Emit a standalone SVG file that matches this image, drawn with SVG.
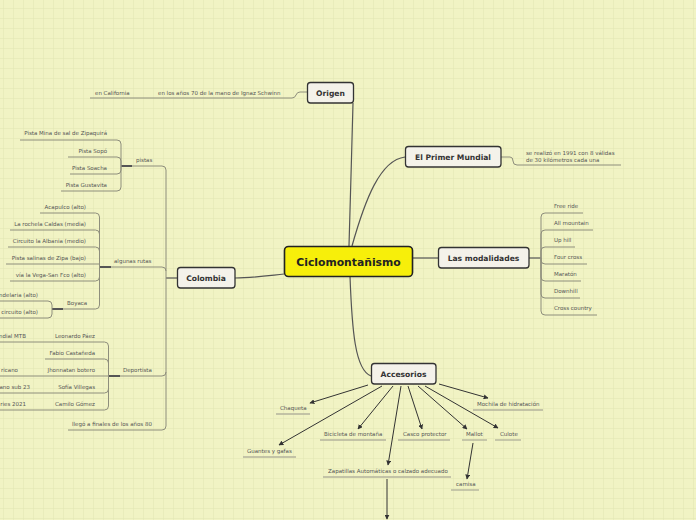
<svg xmlns="http://www.w3.org/2000/svg" width="696" height="520" viewBox="0 0 696 520">
<defs>
<pattern id="grid" x="3" y="8" width="10" height="10" patternUnits="userSpaceOnUse">
<path d="M0 0H10M0 0V10" fill="none" stroke="#e1e5b2" stroke-width="1"/>
</pattern>
<marker id="ah" viewBox="0 0 8 8" refX="7" refY="4" markerWidth="5" markerHeight="5" orient="auto">
<path d="M0 0L8 4L0 8z" fill="#333"/>
</marker>
<style>
.node rect{fill:#f4f2ea;stroke:#333;stroke-width:1.3}
.nt{font-family:"DejaVu Sans",Verdana,sans-serif;font-weight:bold;font-size:7.6px;fill:#333;text-anchor:middle}
.lt{font-family:"DejaVu Sans",Verdana,sans-serif;font-size:5.5px;fill:#555}
.r{text-anchor:end}
.tree{fill:none;stroke:#8e8e7c;stroke-width:1}
.main{fill:none;stroke:#555;stroke-width:1.2}
.thick{fill:none;stroke:#555;stroke-width:2}
.ul{fill:none;stroke:#b3b39c;stroke-width:1.4}
.arr{fill:none;stroke:#333;stroke-width:1;marker-end:url(#ah)}
</style>
</defs>
<rect width="696" height="520" fill="#f1f3c4"/>
<rect width="696" height="520" fill="url(#grid)"/>

<g id="connectors">
<path class="main" d="M349 246 C350 200 352 150 353 103"/>
<path class="main" d="M352 246 C365 200 380 160 405 157"/>
<path class="main" d="M412 258 H438"/>
<path class="main" d="M284 274 C265 276 250 278 235 278"/>
<path class="main" d="M350 276 C352 330 355 370 371 376"/>

<path class="tree" d="M307 92 H300 Q297 92 296 95 Q295 98 292 98 H90"/>
<path class="tree" d="M501 157 H510 Q513 157 513 161 Q513 165 517 165 H621"/>

<path class="main" d="M529 258 H541"/>
<path class="tree" d="M541 258 V217 Q541 213 545 213 H583"/>
<path class="tree" d="M541 258 V234 Q541 230 545 230 H593"/>
<path class="tree" d="M541 258 V251 Q541 247 545 247 H575"/>
<path class="tree" d="M541 258 V260 Q541 264 545 264 H587"/>
<path class="tree" d="M541 258 V277 Q541 281 545 281 H581"/>
<path class="tree" d="M541 258 V294 Q541 298 545 298 H580"/>
<path class="tree" d="M541 258 V311 Q541 315 545 315 H597"/>

<path class="main" d="M177 278 H166"/>
<path class="tree" d="M130 166 H162 Q166 166 166 170 V426 Q166 430 162 430 H68"/>
<path class="tree" d="M100 267 H162 Q166 267 166 271"/>
<path class="tree" d="M108 376 H162 Q166 376 166 372"/>
<path class="thick" d="M121 166 H132"/>
<path class="tree" d="M121 166 V144 Q121 140 117 140 H20"/>
<path class="tree" d="M121 166 V161 Q121 157 117 157 H68"/>
<path class="tree" d="M121 166 V170 Q121 174 117 174 H70"/>
<path class="tree" d="M121 166 V187 Q121 191 117 191 H61"/>
<path class="thick" d="M99.5 267 H111"/>
<path class="tree" d="M99.5 267 V217 Q99.5 213 95.5 213 H40"/>
<path class="tree" d="M99.5 267 V234 Q99.5 230 95.5 230 H10"/>
<path class="tree" d="M99.5 267 V251 Q99.5 247 95.5 247 H8"/>
<path class="tree" d="M99.5 267 V264 H6"/>
<path class="tree" d="M99.5 267 V277 Q99.5 281 95.5 281 H10"/>
<path class="tree" d="M99.5 267 V305 Q99.5 309 95.5 309 H52"/>
<path class="thick" d="M52 309 H63"/>
<path class="tree" d="M52 309 V305 Q52 301 48 301 H0"/>
<path class="tree" d="M52 309 V314 Q52 318 48 318 H0"/>
<path class="thick" d="M108.5 376 H120"/>
<path class="tree" d="M108.5 376 V346 Q108.5 342 104.5 342 H0"/>
<path class="tree" d="M108.5 376 V363 Q108.5 359 104.5 359 H45"/>
<path class="tree" d="M108.5 376 H0"/>
<path class="tree" d="M108.5 376 V389 Q108.5 393 104.5 393 H0"/>
<path class="tree" d="M108.5 376 V406 Q108.5 410 104.5 410 H0"/>

<path class="arr" d="M368 385 L310 403"/>
<path class="arr" d="M382 386 L279 445"/>
<path class="arr" d="M393 386 L358 429"/>
<path class="arr" d="M401 386 L388 465"/>
<path class="arr" d="M408 386 L422 429"/>
<path class="arr" d="M418 386 L467 429"/>
<path class="arr" d="M425 386 L498 428"/>
<path class="arr" d="M439 384 L488 398"/>
<path class="arr" d="M473 443 L467 479"/>
<path class="arr" d="M387 479 L387 519"/>
<path class="ul" d="M276 414 H310"/>
<path class="ul" d="M243 457 H296"/>
<path class="ul" d="M320 440 H386"/>
<path class="ul" d="M323 477 H451"/>
<path class="ul" d="M398 440 H450"/>
<path class="ul" d="M462 440 H487"/>
<path class="ul" d="M495 440 H521"/>
<path class="ul" d="M473 410 H543"/>
<path class="ul" d="M451 490 H479"/>
</g>

<g id="n-center">
<rect x="284.5" y="246.5" width="128" height="30" rx="4" fill="#f7ef0a" stroke="#222" stroke-width="1.6"/>
<text x="348.5" y="265.5" font-family="DejaVu Sans,Verdana,sans-serif" font-weight="bold" font-size="10.8" fill="#222" text-anchor="middle">Ciclomontañismo</text>
</g>
<g id="n-origen" class="node">
<rect x="307.5" y="82.5" width="46" height="20.5" rx="3"/>
<text class="nt" x="330.5" y="95.5">Origen</text>
</g>
<g id="n-mundial" class="node">
<rect x="405.5" y="146.5" width="95.5" height="20.5" rx="3"/>
<text class="nt" x="453" y="159.5">El Primer Mundial</text>
</g>
<g id="n-modalidades" class="node">
<rect x="438.5" y="247.5" width="90.5" height="20.5" rx="3"/>
<text class="nt" x="483.5" y="260.5">Las modalidades</text>
</g>
<g id="n-colombia" class="node">
<rect x="177.5" y="267.5" width="57.5" height="20.5" rx="3"/>
<text class="nt" x="206" y="280.5">Colombia</text>
</g>
<g id="n-accesorios" class="node">
<rect x="371.5" y="363.5" width="64.5" height="20.5" rx="3"/>
<text class="nt" x="403.5" y="376.5">Accesorios</text>
</g>

<g id="t-origen">
<text class="lt" x="158" y="95">en los años 70 de la mano de Ignaz Schwinn</text>
<text class="lt" x="95" y="95">en California</text>
</g>
<g id="t-mundial">
<text class="lt" x="526" y="155">se realizó en 1991 con 8 válidas</text>
<text class="lt" x="526" y="162">de 30 kilómetros cada una</text>
</g>
<g id="t-modalidades">
<text class="lt" x="554" y="208">Free ride</text>
<text class="lt" x="554" y="225">All mountain</text>
<text class="lt" x="554" y="242">Up hill</text>
<text class="lt" x="554" y="259">Four cross</text>
<text class="lt" x="554" y="276">Maratón</text>
<text class="lt" x="554" y="293">Downhill</text>
<text class="lt" x="554" y="310">Cross country</text>
</g>
<g id="t-colombia">
<text class="lt" x="136" y="162">pistas</text>
<text class="lt r" x="107" y="135">Pista Mina de sal de Zipaquirá</text>
<text class="lt r" x="107" y="153">Pista Sopó</text>
<text class="lt r" x="107" y="170">Pista Soacha</text>
<text class="lt r" x="107" y="187">Pista Gustavita</text>
<text class="lt" x="114" y="263">algunas rutas</text>
<text class="lt r" x="86" y="209">Acapulco (alto)</text>
<text class="lt r" x="86" y="226">La rochela Caldas (media)</text>
<text class="lt r" x="86" y="243">Circuito la Albania (medio)</text>
<text class="lt r" x="86" y="260">Pista salinas de Zipa (bajo)</text>
<text class="lt r" x="86" y="277">vía la Vega-San Fco (alto)</text>
<text class="lt" x="67" y="305">Boyaca</text>
<text class="lt r" x="38" y="297">ndelaria (alto)</text>
<text class="lt r" x="38" y="314">circuito (alto)</text>
<text class="lt" x="123" y="372">Deportista</text>
<text class="lt r" x="95" y="338">Leonardo Páez</text>
<text class="lt r" x="95" y="355">Fabio Castañeda</text>
<text class="lt r" x="95" y="372">Jhonnatan botero</text>
<text class="lt r" x="95" y="389">Sofía Villegas</text>
<text class="lt r" x="95" y="406">Camilo Gómez</text>
<text class="lt r" x="26" y="338">ndial MTB</text>
<text class="lt r" x="18" y="372">ricano</text>
<text class="lt r" x="30" y="389">ano sub 23</text>
<text class="lt r" x="26" y="406">ries 2021</text>
<text class="lt" x="72" y="426">llegó a finales de los años 80</text>
</g>
<g id="t-accesorios">
<text class="lt" x="280" y="410">Chaqueta</text>
<text class="lt" x="247" y="453">Guantes y gafas</text>
<text class="lt" x="324" y="436">Bicicleta de montaña</text>
<text class="lt" x="328" y="473">Zapatillas Automáticas o calzado adecuado</text>
<text class="lt" x="403" y="436">Casco protector</text>
<text class="lt" x="466" y="436">Mallot</text>
<text class="lt" x="500" y="436">Culote</text>
<text class="lt" x="477" y="406">Mochila de hidratación</text>
<text class="lt" x="456" y="486">camisa</text>
</g>
</svg>
